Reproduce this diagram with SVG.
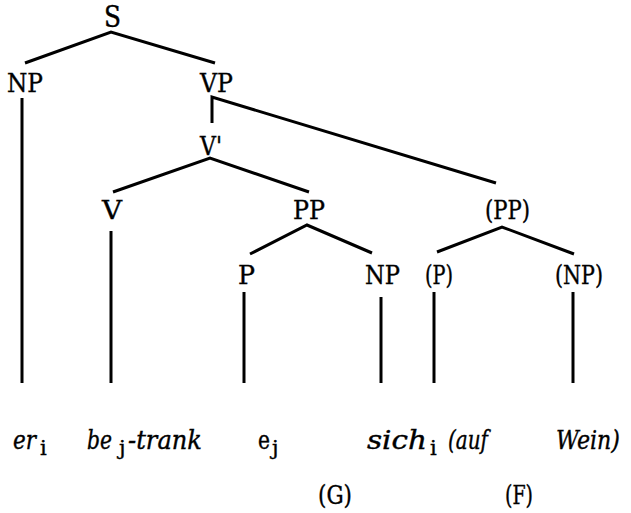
<svg xmlns="http://www.w3.org/2000/svg" width="631" height="513" viewBox="0 0 631 513">
<style>
.lbl{font-family:"DejaVu Serif","Liberation Serif",serif;font-size:26px;fill:#000;stroke:#000;stroke-width:0.4;text-anchor:middle}
.w{font-family:"DejaVu Serif","Liberation Serif",serif;font-size:26px;fill:#000;stroke:#000;stroke-width:0.4}
.it{font-style:italic}
.sub{font-size:21px}
.e{stroke:#000;stroke-width:3;fill:none;stroke-linecap:butt;stroke-linejoin:miter}
</style>
<rect width="631" height="513" fill="#fff"/>
<g id="connectors">
<path class="e" d="M25,63 L111,32 L215,63"/>
<path class="e" d="M212,123 L212,97 L496,183"/>
<path class="e" d="M113,192 L210,158 L309,192"/>
<path class="e" d="M250,254 L307,225 L372,253"/>
<path class="e" d="M437,252 L502,227 L574,254"/>
<path class="e" d="M22,98 V383"/>
<path class="e" d="M111,231 V383"/>
<path class="e" d="M244,292 V383"/>
<path class="e" d="M381,297 V383"/>
<path class="e" d="M434,292 V383"/>
<path class="e" d="M573,292 V383"/>
</g>
<g id="n-S"><text class="lbl" x="112.5" y="27" textLength="17" lengthAdjust="spacingAndGlyphs" style="font-size:29px">S</text></g>
<g id="n-NP1"><text class="lbl" x="25" y="92" textLength="36" lengthAdjust="spacingAndGlyphs">NP</text></g>
<g id="n-VP"><text class="lbl" x="216.5" y="92" textLength="33" lengthAdjust="spacingAndGlyphs">VP</text></g>
<g id="n-Vbar"><text class="lbl" x="211" y="155" textLength="22" lengthAdjust="spacingAndGlyphs">V'</text></g>
<g id="n-V"><text class="lbl" x="112" y="219" textLength="20" lengthAdjust="spacingAndGlyphs">V</text></g>
<g id="n-PP"><text class="lbl" x="309" y="219" textLength="32" lengthAdjust="spacingAndGlyphs">PP</text></g>
<g id="n-PP2"><text class="lbl" x="507.5" y="219" textLength="45" lengthAdjust="spacingAndGlyphs">(PP)</text></g>
<g id="n-P"><text class="lbl" x="246.5" y="284" textLength="17" lengthAdjust="spacingAndGlyphs">P</text></g>
<g id="n-NP2"><text class="lbl" x="382.5" y="284" textLength="35" lengthAdjust="spacingAndGlyphs">NP</text></g>
<g id="n-P2"><text class="lbl" x="439" y="284" textLength="28" lengthAdjust="spacingAndGlyphs">(P)</text></g>
<g id="n-NP3"><text class="lbl" x="579" y="284" textLength="48" lengthAdjust="spacingAndGlyphs">(NP)</text></g>
<g id="w-er"><text class="w it" x="13" y="449" textLength="23" lengthAdjust="spacingAndGlyphs">er</text><text class="w sub" x="40" y="455">i</text></g>
<g id="w-betrank"><text class="w it" x="87" y="449" textLength="25" lengthAdjust="spacingAndGlyphs">be</text><text class="w sub" x="119" y="455">j</text><text class="w it" x="128" y="449" textLength="74" lengthAdjust="spacingAndGlyphs">-trank</text></g>
<g id="w-ej"><text class="w" x="258" y="449" textLength="12" lengthAdjust="spacingAndGlyphs">e</text><text class="w sub" x="272" y="455">j</text></g>
<g id="w-sich"><text class="w it" x="367" y="449" textLength="60" lengthAdjust="spacingAndGlyphs">sich</text><text class="w sub" x="430" y="455">i</text></g>
<g id="w-auf"><text class="w it" x="448" y="449" textLength="40" lengthAdjust="spacingAndGlyphs">(auf</text></g>
<g id="w-wein"><text class="w it" x="556" y="449" textLength="64" lengthAdjust="spacingAndGlyphs">Wein)</text></g>
<g id="t-G"><text class="w" x="318" y="504" textLength="34" lengthAdjust="spacingAndGlyphs">(G)</text></g>
<g id="t-F"><text class="w" x="505" y="504" textLength="28" lengthAdjust="spacingAndGlyphs">(F)</text></g>
</svg>
